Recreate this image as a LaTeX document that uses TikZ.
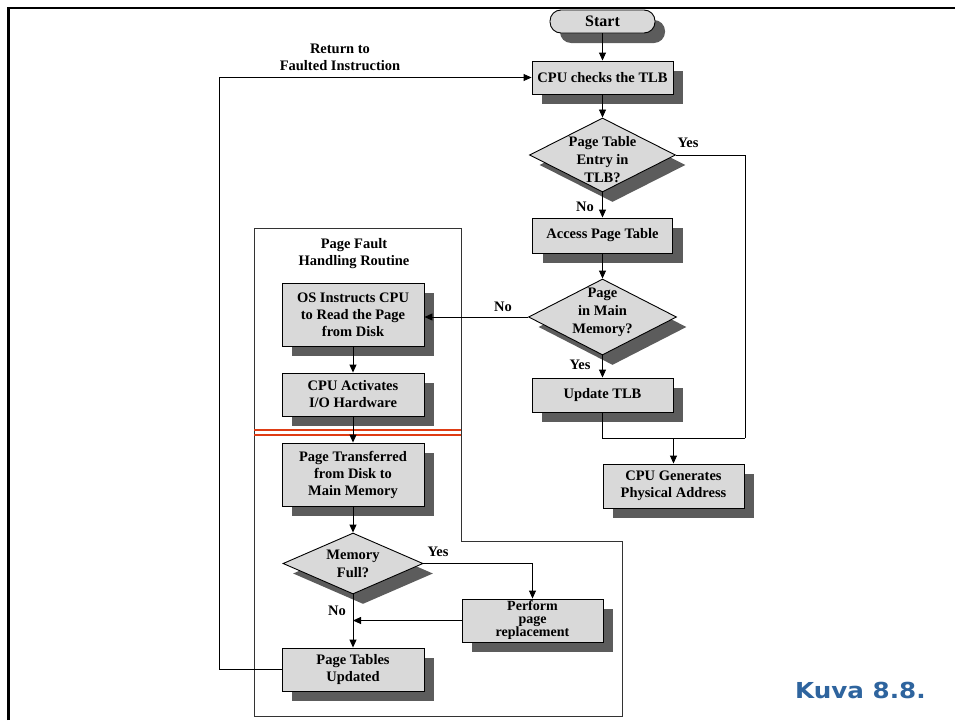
\documentclass[tikz,border=0pt]{standalone}
\usepackage{fontspec}
\setmainfont{Liberation Serif}
\newfontfamily\kuvafont{DejaVu Sans}
\usetikzlibrary{shapes.geometric,shadows,arrows.meta,calc}
\definecolor{boxgray}{RGB}{217,217,217}
\definecolor{shadowgray}{RGB}{92,92,92}
\definecolor{redline}{RGB}{222,60,20}
\definecolor{kuvablue}{RGB}{46,100,158}
\tikzset{
 shad/.style={general shadow={fill=shadowgray,shadow xshift=10pt,shadow yshift=-10pt}},
 procbox/.style={shad, draw=black, line width=0.9pt, fill=boxgray, rectangle, inner sep=0pt, align=center, font=\fontsize{14.5}{17}\selectfont\bfseries},
 decision/.style={shad, draw=black, line width=0.9pt, fill=boxgray, diamond, inner sep=0pt},
 dtext/.style={align=center, font=\fontsize{14.5}{18}\selectfont\bfseries, inner sep=0pt},
 lbl/.style={font=\fontsize{14.5}{17}\selectfont\bfseries, inner sep=0pt, align=center},
 conn/.style={line width=0.9pt, -{Triangle[length=8pt,width=7pt]}},
 plainline/.style={line width=0.9pt},
}
\begin{document}
\begin{tikzpicture}[x=1pt,y=-1pt]
\useasboundingbox (0,0) rectangle (955,720);
% outer frame
\draw[line width=2.7pt, line join=miter] (8.7,720) -- (8.7,8) -- (955,8);
% page fault region
\draw[line width=0.8pt, draw=black!80] (254,228) -- (461,228) -- (461,541) -- (622,541) -- (622,716) -- (254,716) -- cycle;
\draw[redline, line width=1.1pt] (254,430) -- (461,430);
\draw[redline, line width=1.1pt] (254,435) -- (461,435);

% nodes
\node[procbox, rounded corners=11pt, minimum width=105pt, minimum height=23pt, font=\fontsize{16}{18}\selectfont\bfseries] (start) at (602.5,21.5) {Start};
\node[procbox, minimum width=141pt, minimum height=33pt] (cpu) at (602.5,77.5) {CPU checks the TLB};
\node[decision, minimum width=146pt, minimum height=74pt] (d1) at (602.5,155) {};
\node[dtext] (d1t) at (602.5,160) {Page Table\\Entry in\\TLB?};
\node[procbox, minimum width=140pt, minimum height=35pt] (access) at (602.5,235.5) {Access Page Table};
\node[decision, minimum width=148pt, minimum height=76pt] (d2) at (602.5,317) {};
\node[dtext] (d2t) at (602.5,312) {Page\\in Main\\Memory?};
\node[procbox, minimum width=141pt, minimum height=34pt] (update) at (602.5,395) {Update TLB};
\node[procbox, minimum width=141pt, minimum height=44pt] (cpugen) at (673.5,486) {CPU Generates\\Physical Address};
\node[procbox, minimum width=142pt, minimum height=63pt] (os) at (353,314.5) {OS Instructs CPU\\to Read the Page\\from Disk};
\node[procbox, minimum width=142pt, minimum height=43pt] (io) at (353,394.5) {CPU Activates\\I/O Hardware};
\node[procbox, minimum width=142pt, minimum height=63pt] (trans) at (353,474.5) {Page Transferred\\from Disk to\\Main Memory};
\node[decision, minimum width=140pt, minimum height=61pt] (d3) at (353,563.5) {};
\node[dtext] (d3t) at (353,564) {Memory\\Full?};
\node[procbox, minimum width=141pt, minimum height=43pt, font=\fontsize{14}{13}\selectfont\bfseries] (perf) at (532.5,620.5) {Perform\\page\\replacement};
\node[procbox, minimum width=142pt, minimum height=43pt] (ptu) at (353,669.5) {Page Tables\\Updated};

% labels
\node[lbl] (rtxt) at (340,57) {Return to\\Faulted Instruction};
\node[lbl] (pftxt) at (354,254) {Page Fault\\Handling Routine};
\node[lbl] (y1) at (688,143) {Yes};
\node[lbl] (n1) at (585,207) {No};
\node[lbl] (n2) at (503,307) {No};
\node[lbl] (y2) at (580,365) {Yes};
\node[lbl] (y3) at (438,552) {Yes};
\node[lbl] (n3) at (337,611) {No};
\node[font=\kuvafont\bfseries\fontsize{22}{24}\selectfont, text=kuvablue, anchor=base west, inner sep=0pt] (kuva) at (795,698) {\scalebox{1.12}[1]{Kuva 8.8.}};

% connectors
\draw[conn] (start) -- (cpu);
\draw[conn] (cpu) -- (d1);
\draw[conn] (d1) -- (access);
\draw[conn] (access) -- (d2);
\draw[conn] (d2.west) -- (d2.west -| os.east);
\draw[conn] (d2) -- (update);
\draw[conn] (os) -- (io);
\draw[conn] (io) -- (trans);
\draw[conn] (trans) -- (d3);
\draw[conn] (d3) -- (ptu);
\draw[conn] (d3.east) -| (perf.north);
\coordinate (mid) at (d3.south |- perf.west);
\draw[conn] (perf.west) -- (mid);
\coordinate (ret) at (219,669.5);
\draw[conn] (ptu.west) -- (ret) |- (cpu.west);
\coordinate (yr) at (745,438);
\draw[plainline] (d1.east) -| (yr);
\draw[plainline] (update.south) |- (yr);
\coordinate (jn) at (cpugen.north |- yr);
\draw[conn] (jn) -- (cpugen.north);
\end{tikzpicture}
\end{document}
